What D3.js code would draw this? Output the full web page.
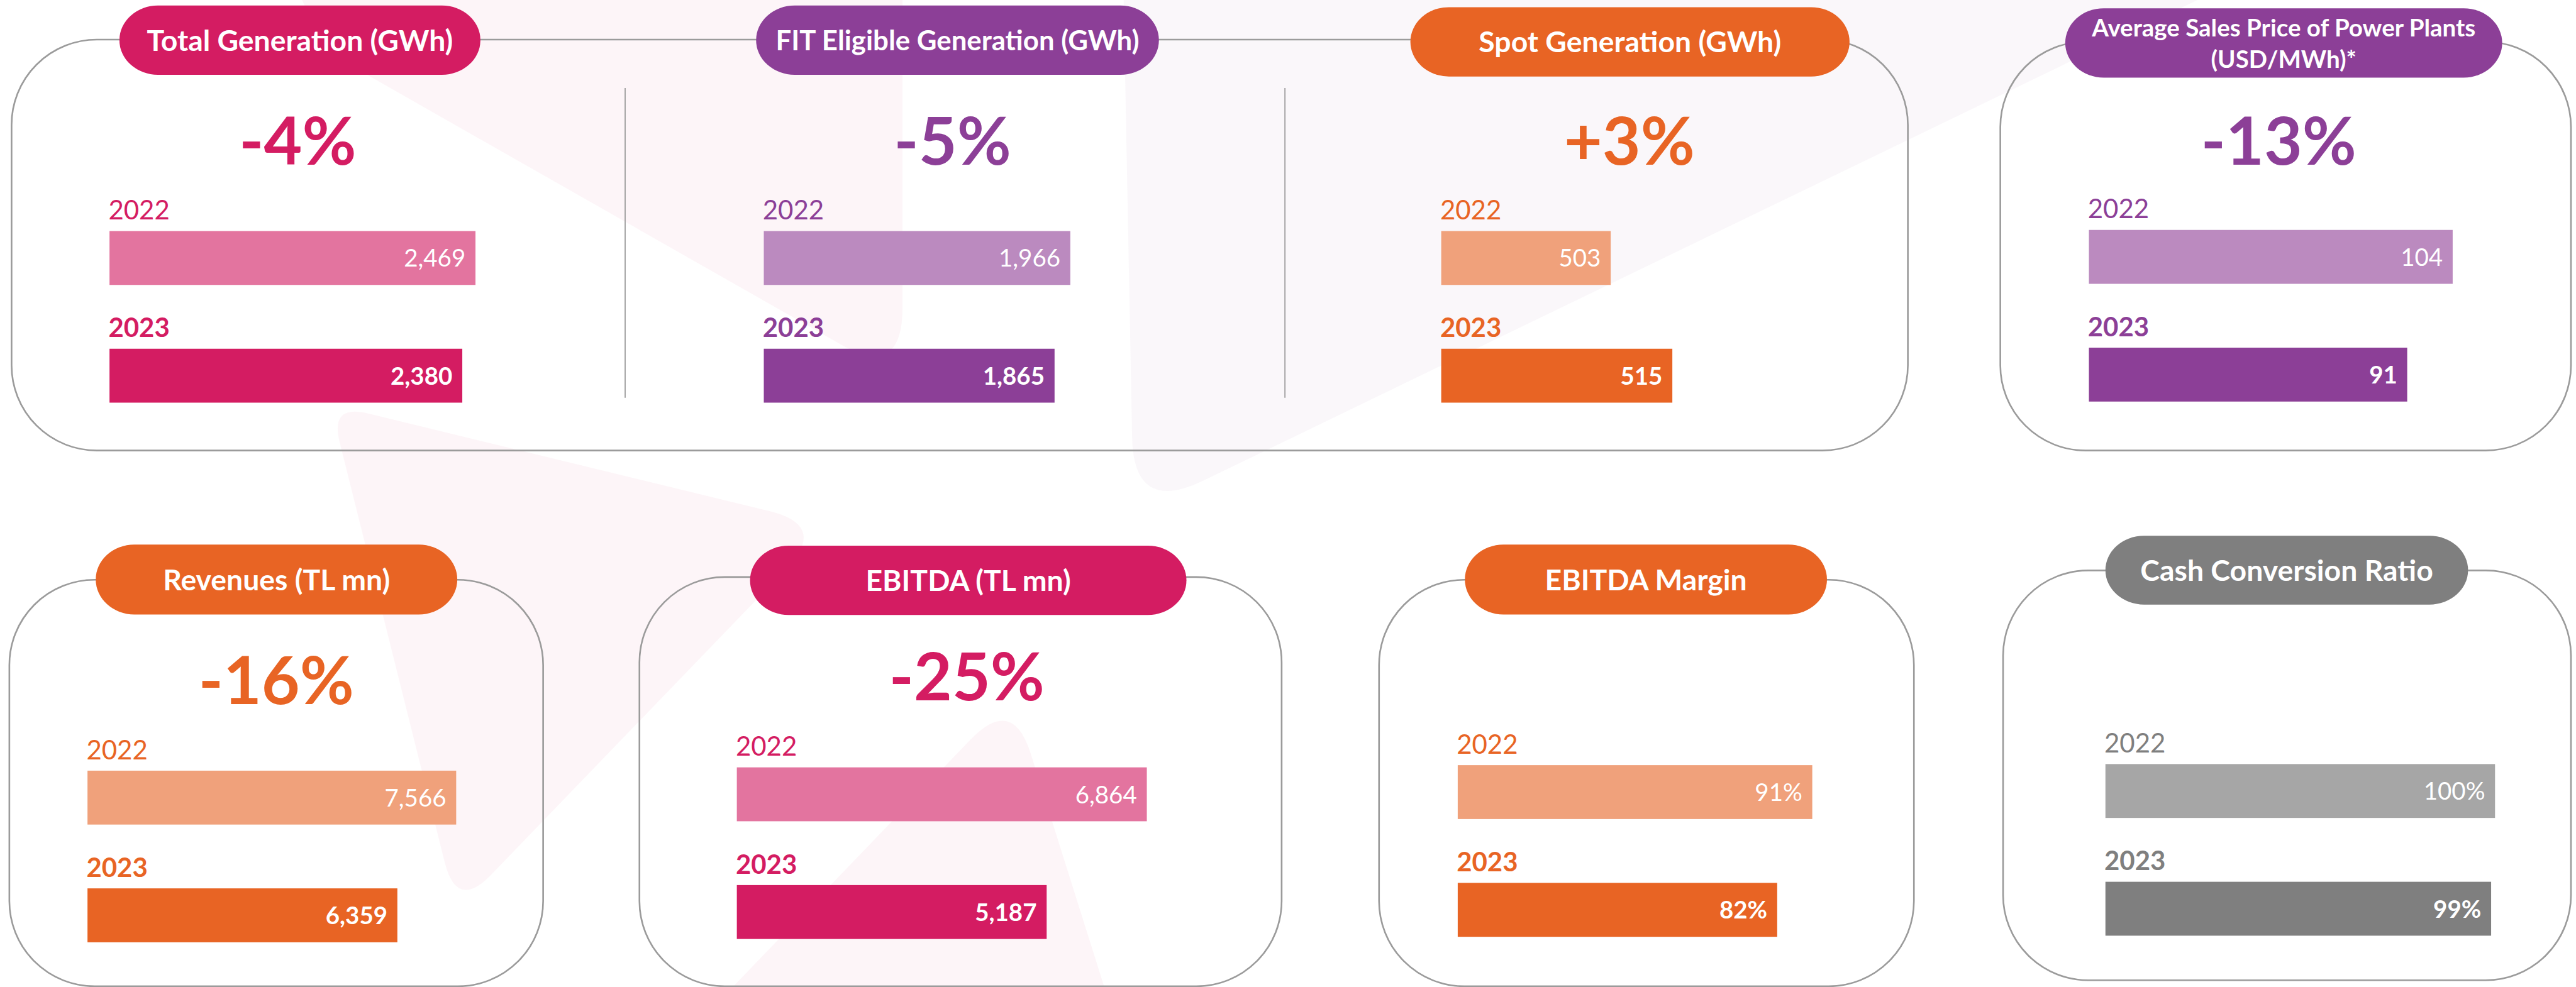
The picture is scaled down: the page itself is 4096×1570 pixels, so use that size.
<!DOCTYPE html>
<html><head><meta charset="utf-8">
<script src="https://cdn.jsdelivr.net/npm/d3@7"></script>
<style>html,body{margin:0;padding:0;background:#fff;overflow:hidden}</style>
</head><body>
<svg id="chart" width="4096" height="1570"></svg>
<script>
// ---------------- DATA ----------------
const titles = [
  ["Total Generation (GWh)"],
  ["FIT Eligible Generation (GWh)"],
  ["Spot Generation (GWh)"],
  ["Average Sales Price of Power Plants", "(USD/MWh)*"],
  ["Revenues (TL mn)"],
  ["EBITDA (TL mn)"],
  ["EBITDA Margin"],
  ["Cash Conversion Ratio"]
];
const years = ["2022", "2023"];
const values2022 = [2469, 1966, 503, 104, 7566, 6864, 91, 100];
const values2023 = [2380, 1865, 515, 91, 6359, 5187, 82, 99];
const changeLabels = ["-4%", "-5%", "+3%", "-13%", "-16%", "-25%", "", ""];
const valueSuffix = ["", "", "", "", "", "", "%", "%"];
const axisDomains = [[0, 2500], [0, 2000], [470, 515], [0, 100], [0, 8000], [0, 7000], [0, 100], [0, 100]];

// ---------------- STYLE / LAYOUT (reference pixels) ----------------
const palette = {
  magenta: ["#D41C62", "#E3749F"],
  purple:  ["#8C3F97", "#BB8ABF"],
  orange:  ["#E86424", "#F0A17B"],
  gray:    ["#7F7F7F", "#A6A6A6"]
};
const panelColors = ["magenta", "purple", "orange", "purple", "orange", "magenta", "orange", "gray"];
const layout = [
  {pill: [217, 873, 10, 136],   tfs: 53, pctX: 541,  pctY: 299,  barX: 199,  barTop: 420,  rangeW: 673.4},
  {pill: [1374, 2106, 10, 136], tfs: 50, pctX: 1731, pctY: 299,  barX: 1388, barTop: 420,  rangeW: 566.6},
  {pill: [2563, 3361, 13, 139], tfs: 53, pctX: 2961, pctY: 299,  barX: 2619, barTop: 420,  rangeW: 420},
  {pill: [3753, 4547, 15, 141], tfs: 44, pctX: 4141, pctY: 299,  barX: 3796, barTop: 418,  rangeW: 635.6},
  {pill: [174, 831, 990, 1117], tfs: 53, pctX: 502,  pctY: 1280, barX: 159,  barTop: 1401, rangeW: 708.4},
  {pill: [1363, 2156, 992, 1118], tfs: 53, pctX: 1757, pctY: 1273, barX: 1339, barTop: 1395, rangeW: 759.8},
  {pill: [2662, 3320, 990, 1117], tfs: 53, pctX: 2991, pctY: 1273, barX: 2649, barTop: 1391, rangeW: 708},
  {pill: [3826, 4485, 974, 1099], tfs: 53, pctX: 4155, pctY: 1273, barX: 3826, barTop: 1389, rangeW: 708}
];
const boxes = [
  [21, 3467, 72, 819], [3635, 4672, 76, 819],
  [17, 987, 1054, 1793], [1162, 2329, 1049, 1793], [2506, 3478, 1054, 1793], [3640, 4672, 1037, 1782]
];
const dividers = [[1136, 160, 723], [2335, 160, 723]];
const FONT = "Lato, 'Open Sans', sans-serif";

const svg = d3.select("#chart");
const root = svg.append("g").attr("transform", "scale(0.875)");

// boxes
root.selectAll("path.box").data(boxes).join("path")
  .attr("class", "box")
  .attr("d", b => {
    const [x0, x1, y0, y1] = b, r = 155;
    return `M${x0 + r},${y0} H${x1 - r} A${r},${r} 0 0 1 ${x1},${y0 + r} V${y1 - r} A${r},${r} 0 0 1 ${x1 - r},${y1} H${x0 + r} A${r},${r} 0 0 1 ${x0},${y1 - r} V${y0 + r} A${r},${r} 0 0 1 ${x0 + r},${y0} Z`;
  })
  .attr("fill", "none").attr("stroke", "#9b9b9b").attr("stroke-width", 3);

root.selectAll("line.div").data(dividers).join("line")
  .attr("x1", d => d[0]).attr("x2", d => d[0]).attr("y1", d => d[1]).attr("y2", d => d[2])
  .attr("stroke", "#9b9b9b").attr("stroke-width", 2);

// panels
titles.forEach((t, i) => {
  const L = layout[i];
  const [dark, light] = palette[panelColors[i]];
  const g = root.append("g");
  const [px0, px1, py0, py1] = L.pill;
  g.append("rect").attr("x", px0).attr("y", py0).attr("width", px1 - px0).attr("height", py1 - py0)
    .attr("rx", 70).attr("ry", (py1 - py0) / 2).attr("fill", dark);
  const cy = (py0 + py1) / 2, cx = (px0 + px1) / 2;
  if (t.length === 1) {
    g.append("text").attr("x", cx).attr("y", cy + L.tfs * 0.36).attr("text-anchor", "middle")
      .attr("font-family", FONT).attr("font-weight", 700).attr("font-size", L.tfs).attr("fill", "#fff").text(t[0]);
  } else {
    t.forEach((line, k) => {
      g.append("text").attr("x", cx).attr("y", cy - 12 + k * 57).attr("text-anchor", "middle")
        .attr("font-family", FONT).attr("font-weight", 700).attr("font-size", L.tfs).attr("fill", "#fff").text(line);
    });
  }
  if (changeLabels[i]) {
    g.append("text").attr("x", L.pctX).attr("y", L.pctY).attr("text-anchor", "middle")
      .attr("font-family", FONT).attr("font-weight", 700).attr("font-size", 120).attr("fill", dark)
      .text(changeLabels[i]);
  }
  const x = d3.scaleLinear().domain(axisDomains[i]).range([0, L.rangeW]);
  const y = d3.scaleBand().domain(years).range([L.barTop, L.barTop + 312]).paddingInner(116 / 214).paddingOuter(0);
  const rows = years.map((yr, k) => ({yr, v: k === 0 ? values2022[i] : values2023[i], k}));
  g.selectAll("rect.bar").data(rows).join("rect")
    .attr("x", L.barX).attr("y", d => y(d.yr)).attr("width", d => x(d.v)).attr("height", y.bandwidth())
    .attr("fill", d => d.k === 0 ? light : dark);
  g.selectAll("text.yr").data(rows).join("text")
    .attr("x", L.barX - 2).attr("y", d => y(d.yr) - 21)
    .attr("font-family", FONT).attr("font-weight", d => d.k === 0 ? 400 : 700).attr("font-size", 48)
    .attr("fill", dark).text(d => d.yr);
  const fmt = d3.format(",");
  g.selectAll("text.val").data(rows).join("text")
    .attr("x", d => L.barX + x(d.v) - 18).attr("y", d => y(d.yr) + y.bandwidth() / 2 + 16)
    .attr("text-anchor", "end")
    .attr("font-family", FONT).attr("font-weight", d => d.k === 0 ? 400 : 700).attr("font-size", 44)
    .attr("fill", "#fff").text(d => fmt(d.v) + valueSuffix[i]);
});

// faint watermark shapes (decorative)
function roundedPoly(pts, rs) {
  const n = pts.length; let d = "";
  for (let i = 0; i < n; i++) {
    const p0 = pts[(i - 1 + n) % n], p1 = pts[i], p2 = pts[(i + 1) % n], r = rs[i];
    const u = (a, b) => { const dx = a[0] - b[0], dy = a[1] - b[1], l = Math.hypot(dx, dy); return [dx / l, dy / l]; };
    const ua = u(p0, p1), ub = u(p2, p1);
    const a = [p1[0] + ua[0] * r, p1[1] + ua[1] * r], b = [p1[0] + ub[0] * r, p1[1] + ub[1] * r];
    d += (i === 0 ? "M" : "L") + a[0] + "," + a[1] + "Q" + p1[0] + "," + p1[1] + " " + b[0] + "," + b[1];
  }
  return d + "Z";
}
const marks = [
  [[[500, -100], [1640, -100], [1640, 690], [595, 95]], [0, 0, 130, 90], "#e05080"],
  [[[2040, -100], [4200, -100], [2060, 935]], [0, 0, 140], "#b070a8"],
  [[[600, 735], [1505, 955], [830, 1655]], [70, 110, 90], "#e05080"],
  [[[1840, 1265], [2040, 1900], [1230, 1900]], [110, 0, 0], "#e05080"]
];
root.insert("g", ":first-child").selectAll("path").data(marks).join("path")
  .attr("d", m => roundedPoly(m[0], m[1]))
  .attr("fill", m => m[2]).attr("opacity", 0.06);
</script>
</body></html>
